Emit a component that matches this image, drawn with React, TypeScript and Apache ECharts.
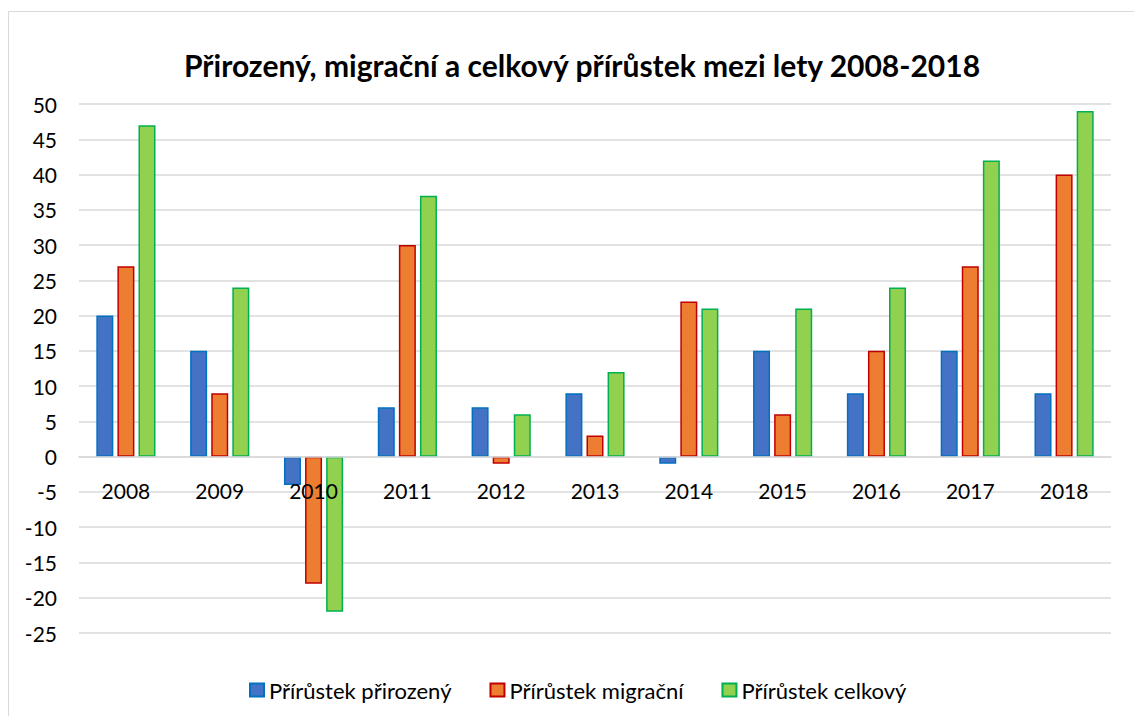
import React, { useEffect, useRef } from "react";
import * as echarts from "echarts";

const years = ["2008", "2009", "2010", "2011", "2012", "2013", "2014", "2015", "2016", "2017", "2018"];
const prirozeny = [20, 15, -4, 7, 7, 9, -1, 15, 9, 15, 9];
const migracni = [27, 9, -18, 30, -1, 3, 22, 6, 15, 27, 40];
const celkovy = [47, 24, -22, 37, 6, 12, 21, 21, 24, 42, 49];
const seriesNames = ["Přírůstek přirozený", "Přírůstek migrační", "Přírůstek celkový"];
const titleText = "Přirozený, migrační a celkový přírůstek mezi lety 2008-2018";
const yMin = -25;
const yMax = 50;
const yStep = 5;

const FONT = "Lato, 'Noto Sans', sans-serif";

export default function App() {
  const ref = useRef<HTMLDivElement>(null);
  useEffect(() => {
    document.body.style.margin = "0";
    const W = 1134;
    const H = 716;
    const gridTop = 104;
    const gridBottom = 83;
    const gridH = H - gridTop - gridBottom;
    const zeroOffset = -(gridH * (0 - yMin)) / (yMax - yMin);
    const chart = echarts.init(ref.current!, undefined, { renderer: "svg" });
    const mk = (name: string, data: number[], fill: string, border: string) => ({
      name,
      type: "bar",
      data,
      barWidth: 17,
      barGap: "24%",
      z: 2,
      itemStyle: { color: fill, borderColor: border, borderWidth: 1.5 },
    });
    chart.setOption({
      animation: false,
      backgroundColor: "#ffffff",
      textStyle: { fontFamily: FONT },
      graphic: [
        {
          type: "rect",
          shape: { x: 8.5, y: 11.5, width: W + 10, height: H + 10 },
          style: { fill: "none", stroke: "#d9d9d9", lineWidth: 1 },
          silent: true,
        },
      ],
      title: {
        text: titleText,
        left: 179,
        top: 45,
        textStyle: { fontFamily: FONT, fontSize: 30, fontWeight: "bold", color: "#000000" },
      },
      legend: {
        top: 674,
        left: 244,
        itemWidth: 14,
        itemHeight: 13,
        itemGap: 38,
        icon: "rect",
        textStyle: { fontFamily: FONT, fontSize: 22, color: "#000000" },
        data: seriesNames,
      },
      grid: { left: 79, right: 23, top: gridTop, bottom: gridBottom },
      xAxis: {
        type: "category",
        data: years,
        offset: zeroOffset,
        z: 5,
        axisLine: { onZero: false, lineStyle: { color: "#d9d9d9", width: 1.5 } },
        axisTick: { show: false },
        axisLabel: { fontFamily: FONT, fontSize: 21, color: "#000000", margin: 23 },
      },
      yAxis: {
        type: "value",
        min: yMin,
        max: yMax,
        interval: yStep,
        axisLine: { show: false },
        axisTick: { show: false },
        axisLabel: { fontFamily: FONT, fontSize: 21, color: "#000000", margin: 22 },
        splitLine: { lineStyle: { color: "#d9d9d9", width: 1.5 } },
      },
      series: [
        mk(seriesNames[0], prirozeny, "#4472C4", "#0070C0"),
        mk(seriesNames[1], migracni, "#ED7D31", "#C00000"),
        mk(seriesNames[2], celkovy, "#92D050", "#00B050"),
      ],
    });
    return () => chart.dispose();
  }, []);
  return <div ref={ref} style={{ width: 1134, height: 716 }} />;
}
